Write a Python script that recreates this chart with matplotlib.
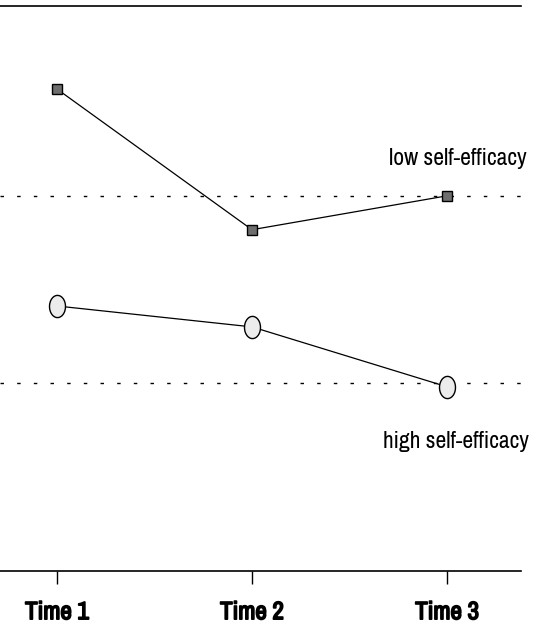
import matplotlib

matplotlib.use("Agg")
import matplotlib.pyplot as plt  # noqa: E402
import matplotlib.patheffects as pe  # noqa: E402
from matplotlib.path import Path  # noqa: E402
import numpy as np  # noqa: E402
from matplotlib import font_manager  # noqa: E402

# data (arbitrary score units)
times = [1, 2, 3]
tick_labels = ["Time 1", "Time 2", "Time 3"]
low_se = [8.53, 6.04, 6.64]
high_se = [4.69, 4.32, 3.26]
low_ref = 6.64
high_ref = 3.33

names = sorted({f.name for f in font_manager.fontManager.ttflist})
cond = [n for n in names if "Narrow" in n or "Condensed" in n]
narrow = cond[0] if cond else "DejaVu Sans"

# tall ellipse marker
theta = np.linspace(0, 2 * np.pi, 40)
ellipse = Path(np.column_stack([0.72 * np.cos(theta), np.sin(theta)]))

fig = plt.figure(figsize=(5.41, 6.28), dpi=100)
ax = fig.add_axes([0.0, 0.0908, 0.963, 0.8997])

ax.axhline(low_ref, color="black", lw=1.0, ls=(0, (2.5, 9.5)))
ax.axhline(high_ref, color="black", lw=1.0, ls=(0, (2.5, 9.5)))

ax.plot(times, low_se, color="black", lw=0.9, marker="s", ms=7,
        mfc="#6e6e6e", mec="black", mew=1.0, zorder=3)
ax.plot(times, high_se, color="black", lw=0.9, marker=ellipse, ms=16,
        mfc="#ececec", mec="black", mew=1.0, zorder=3)

ax.text(3.41, 7.30, "low self-efficacy", ha="right", va="center",
        fontsize=17, family=narrow, fontstretch="condensed")
ax.text(3.42, 2.30, "high self-efficacy", ha="right", va="center",
        fontsize=17, family=narrow, fontstretch="condensed")

ax.set_xlim(0.708, 3.379)
ax.set_ylim(0, 10)
ax.set_yticks([])
ax.set_xticks(times)
ax.set_xticklabels(tick_labels, fontsize=18, fontweight="bold", family=narrow,
                   fontstretch="condensed")
for lbl in ax.get_xticklabels():
    lbl.set_path_effects([pe.withStroke(linewidth=1.2, foreground="black")])
ax.tick_params(axis="x", direction="out", length=9, width=1, pad=12)
for side in ("left", "right"):
    ax.spines[side].set_visible(False)
for side in ("top", "bottom"):
    ax.spines[side].set_linewidth(1.2)

fig.savefig("out.png", dpi=100)
